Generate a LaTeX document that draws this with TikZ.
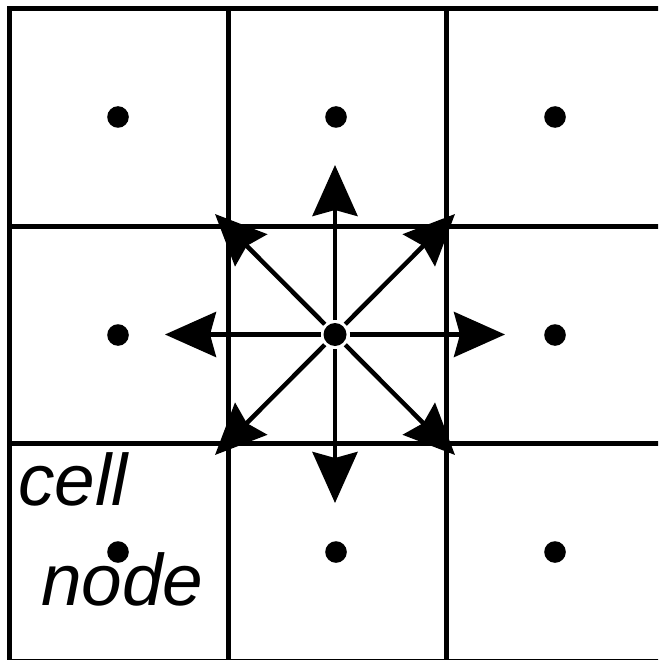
\documentclass[tikz,border=0pt]{standalone}
\usepackage{fontspec}
\setmainfont{Liberation Sans}
\usetikzlibrary{arrows.meta}
\tikzset{
  gridline/.style={line width=5pt, line cap=rect},
  celldot/.style={circle, fill=black, inner sep=0pt, minimum size=21.6pt},
  centerdot/.style={circle, fill=black, inner sep=0pt, minimum size=23pt, outer sep=3pt},
  dirarrow/.style={line width=4.5pt, -{Stealth[length=51pt, width=45pt, inset=6pt]}},
  lbl/.style={font=\fontsize{73}{86}\selectfont\itshape, inner sep=0pt, anchor=base west}
}
\begin{document}
\begin{tikzpicture}[x=1pt, y=-1pt]
\useasboundingbox (0,0) rectangle (658,660);
\fill[white] (0,0) rectangle (658,660);
\begin{scope}
\clip (0,0) rectangle (658,660);
\draw[gridline] (9.5,700) -- (9.5,8.5) -- (700,8.5);
\draw[gridline] (9.5,661) -- (700,661);
\draw[gridline] (228.5,8.5) -- (228.5,700);
\draw[gridline] (446.5,8.5) -- (446.5,700);
\draw[gridline] (9.5,226.5) -- (700,226.5);
\draw[gridline] (9.5,443.5) -- (700,443.5);
\end{scope}
% cell nodes
\node[celldot] (d11) at (118,117) {};
\node[celldot] (d12) at (336,117) {};
\node[celldot] (d13) at (555,117) {};
\node[celldot] (d21) at (118,335) {};
\node[centerdot] (c) at (335,334.5) {};
\node[celldot] (d23) at (555,335) {};
\node[celldot] (d31) at (118,552) {};
\node[celldot] (d32) at (336,552) {};
\node[celldot] (d33) at (555,552) {};
% arrow tips
\coordinate (tn) at (335,165);
\coordinate (ts) at (335,503);
\coordinate (tw) at (165,334.5);
\coordinate (te) at (505,334.5);
\coordinate (tne) at (455,214);
\coordinate (tnw) at (215,214);
\coordinate (tse) at (455,455);
\coordinate (tsw) at (215,455);
\foreach \t in {tn,ts,tw,te,tne,tnw,tse,tsw} \draw[dirarrow] (c) -- (\t);
% labels
\node[lbl] (lcell) at (18,505) {cell};
\node[lbl] (lnode) at (41,605) {node};
\end{tikzpicture}
\end{document}
